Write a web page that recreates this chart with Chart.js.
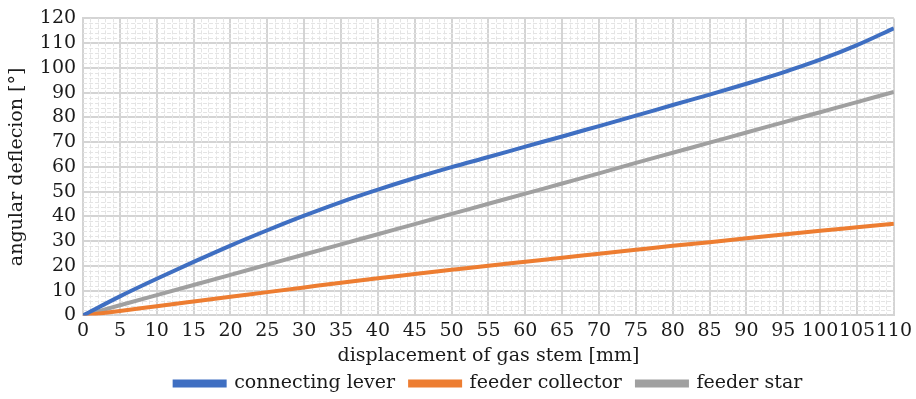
<!DOCTYPE html>
<html>
<head>
<meta charset="utf-8">
<script src="https://cdn.jsdelivr.net/npm/chart.js@4/dist/chart.umd.min.js"></script>
<style>
  html, body { margin: 0; padding: 0; background: #fff; }
  #wrap { width: 916px; height: 399px; }
</style>
</head>
<body>
<div id="wrap"><canvas id="c" width="916" height="399"></canvas></div>
<script>
const displacement = [0, 5, 10, 15, 20, 25, 30, 35, 40, 45, 50, 55, 60, 65, 70, 75, 80, 85, 90, 95, 100, 105, 110];
const connectingLever = [0, 7.7, 14.8, 21.6, 28.2, 34.4, 40.3, 45.8, 50.8, 55.5, 59.9, 64.0, 68.2, 72.3, 76.5, 80.7, 85.0, 89.2, 93.6, 98.2, 103.3, 109.2, 116.0];
const feederCollector = [0, 1.8, 3.7, 5.6, 7.5, 9.4, 11.3, 13.2, 15.0, 16.7, 18.4, 20.1, 21.7, 23.3, 24.9, 26.5, 28.1, 29.6, 31.2, 32.7, 34.2, 35.6, 37.0];
const feederStar = [0, 4.1, 8.2, 12.3, 16.4, 20.5, 24.6, 28.7, 32.8, 36.9, 41.0, 45.1, 49.2, 53.3, 57.4, 61.6, 65.7, 69.8, 73.9, 78.0, 82.1, 86.2, 90.3];
const seriesNames = ["connecting lever", "feeder collector", "feeder star"];
const xTitle = "displacement of gas stem [mm]";
const yTitle = "angular deflecion [°]";

const FONT = "'DejaVu Serif', serif";
const FS = 19;
const TXT = '#1a1a1a';
const colors = ["#3F6FC2", "#ED7D31", "#A0A0A0"];
const LEG_PAD = 15;

function pts(ys) { return displacement.map((x, i) => ({ x: x, y: ys[i] })); }

const minorGrid = {
  id: 'minorGrid',
  beforeDatasetsDraw(chart) {
    const { ctx, chartArea: a, scales: { x, y } } = chart;
    ctx.save();
    ctx.strokeStyle = '#e4e4e4';
    ctx.lineWidth = 1;
    ctx.setLineDash([4, 2]);
    for (let v = 1; v < 110; v += 1) {
      if (v % 5 === 0) continue;
      const px = Math.round(x.getPixelForValue(v)) + 0.5;
      ctx.beginPath(); ctx.moveTo(px, a.top); ctx.lineTo(px, a.bottom); ctx.stroke();
    }
    for (let v = 2; v < 120; v += 2) {
      if (v % 10 === 0) continue;
      const py = Math.round(y.getPixelForValue(v)) + 0.5;
      ctx.beginPath(); ctx.moveTo(a.left, py); ctx.lineTo(a.right, py); ctx.stroke();
    }
    ctx.restore();
  }
};

// centre the legend under the plot area rather than the whole canvas
const legendShift = {
  id: 'legendShift',
  afterLayout(chart) {
    const lg = chart.legend;
    if (!lg) return;
    const a = chart.chartArea;
    const d = (a.left + a.right) / 2 - (lg.left + lg.right) / 2;
    lg.left += d; lg.right += d;
    if (lg.legendHitBoxes) lg.legendHitBoxes.forEach(h => { h.left += d; });
  }
};

new Chart(document.getElementById('c'), {
  type: 'line',
  data: {
    datasets: [
      { label: seriesNames[0], data: pts(connectingLever), borderColor: colors[0], backgroundColor: colors[0] },
      { label: seriesNames[1], data: pts(feederCollector), borderColor: colors[1], backgroundColor: colors[1] },
      { label: seriesNames[2], data: pts(feederStar), borderColor: colors[2], backgroundColor: colors[2] }
    ].map(d => Object.assign(d, { borderWidth: 4, pointRadius: 0, cubicInterpolationMode: 'monotone', fill: false }))
  },
  options: {
    responsive: false,
    animation: false,
    layout: { padding: { top: -5, right: 4, left: 6, bottom: -4 } },
    plugins: {
      legend: {
        position: 'bottom',
        labels: { font: { family: FONT, size: FS }, color: TXT, boxWidth: 50, boxHeight: 4, padding: LEG_PAD }
      },
      tooltip: { enabled: false }
    },
    scales: {
      x: {
        type: 'linear', min: 0, max: 110,
        ticks: { stepSize: 5, autoSkip: false, maxRotation: 0, font: { family: FONT, size: FS }, color: TXT, padding: 4 },
        grid: { color: '#d4d4d4', lineWidth: 2, drawTicks: false },
        border: { color: '#d4d4d4', width: 2 },
        title: { display: true, text: xTitle, font: { family: FONT, size: FS }, color: TXT, padding: { top: -2, bottom: 2 - (LEG_PAD - 5) } }
      },
      y: {
        min: 0, max: 120,
        ticks: { stepSize: 10, autoSkip: false, font: { family: FONT, size: FS }, color: TXT, padding: 7 },
        grid: { color: '#d4d4d4', lineWidth: 2, drawTicks: false },
        border: { color: '#d4d4d4', width: 2 },
        title: { display: true, text: yTitle, font: { family: FONT, size: FS }, color: TXT, padding: { top: 0, bottom: 4 } }
      }
    }
  },
  plugins: [minorGrid, legendShift]
});
</script>
</body>
</html>
